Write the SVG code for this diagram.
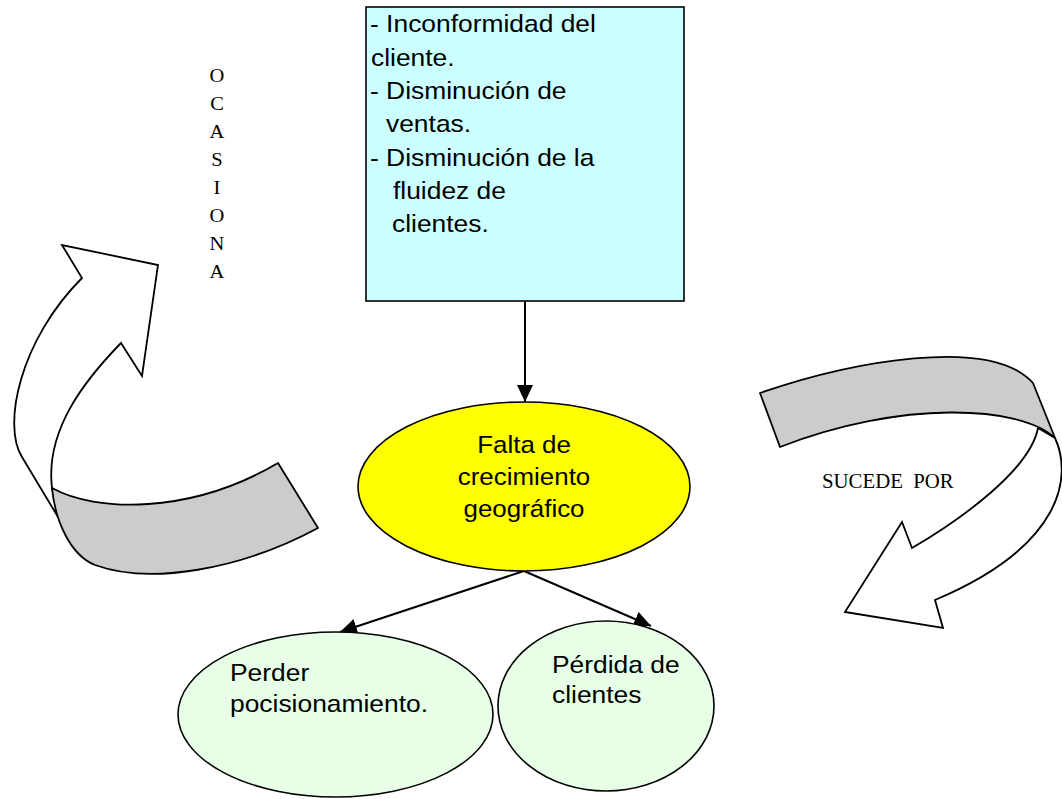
<svg xmlns="http://www.w3.org/2000/svg" width="1062" height="799" viewBox="0 0 1062 799">
  <style>
    .sans { font-family: "Liberation Sans", Arial, sans-serif; font-size: 24px; fill: #000; }
    .serif { font-family: "Liberation Serif", "Times New Roman", serif; fill: #000; }
    .edge { stroke: #000; stroke-width: 2; fill: none; }
    .shape { stroke: #000; stroke-width: 1.6; }
    .band { fill: #cccccc; stroke: #000; stroke-width: 1.8; stroke-linejoin: round; }
    .curl { fill: #ffffff; stroke: #000; stroke-width: 1.8; stroke-linejoin: miter; }
  </style>
  <defs>
    <marker id="head" markerUnits="userSpaceOnUse" markerWidth="18" markerHeight="16" refX="17" refY="8" orient="auto">
      <path d="M0,0 L17,8 L0,16 Z" fill="#000"/>
    </marker>
  </defs>

  <rect width="1062" height="799" fill="#ffffff"/>

  <!-- curved arrow, left side -->
  <g id="curl-left">
    <path class="curl" d="M58,517 L22,457 C2,425 20,340 82,278 L62,245 L158,265 L142,376 L121,343 C85,380 45,430 52,488 Z"/>
    <path class="band" d="M52,488 C95,512 190,515 278,463 L318,528 C240,570 150,585 95,565 C70,555 55,520 52,488 Z"/>
  </g>

  <!-- curved arrow, right side -->
  <g id="curl-right">
    <path class="curl" d="M1055,438 C1072,475 1065,545 935,600 L943,628 L845,612 L902,522 L912,548 C960,520 1030,470 1038,428 Z"/>
    <path class="band" d="M760,393 C850,362 990,335 1033,383 L1055,438 C1020,405 900,400 780,447 Z"/>
  </g>

  <!-- vertical label -->
  <g id="label-ocasiona" class="serif" font-size="19" text-anchor="middle">
    <text transform="translate(217,82) scale(1.08,1)">O</text>
    <text transform="translate(217,110) scale(1.08,1)">C</text>
    <text transform="translate(217,138) scale(1.08,1)">A</text>
    <text transform="translate(217,166) scale(1.08,1)">S</text>
    <text transform="translate(217,194) scale(1.08,1)">I</text>
    <text transform="translate(217,222) scale(1.08,1)">O</text>
    <text transform="translate(217,250) scale(1.08,1)">N</text>
    <text transform="translate(217,278) scale(1.08,1)">A</text>
  </g>

  <g id="label-sucede" class="serif" font-size="20">
    <text transform="translate(822,488) scale(1.04,1)" xml:space="preserve">SUCEDE  POR</text>
  </g>

  <!-- connectors -->
  <g id="connectors">
    <line class="edge" x1="525" y1="301" x2="525" y2="402" marker-end="url(#head)"/>
    <line class="edge" x1="524" y1="571" x2="340" y2="632" marker-end="url(#head)"/>
    <line class="edge" x1="524" y1="571" x2="651" y2="626" marker-end="url(#head)"/>
  </g>

  <!-- effects box -->
  <g id="node-effects">
    <rect class="shape" x="366" y="7" width="318" height="294" fill="#ccffff"/>
    <g class="sans">
      <text transform="translate(370,32) scale(1.1,1)">- Inconformidad del</text>
      <text transform="translate(371,65.5) scale(1.1,1)">cliente.</text>
      <text transform="translate(370,99) scale(1.1,1)">- Disminución de</text>
      <text transform="translate(386,132) scale(1.1,1)">ventas.</text>
      <text transform="translate(370,166) scale(1.1,1)">- Disminución de la</text>
      <text transform="translate(393,199) scale(1.1,1)">fluidez de</text>
      <text transform="translate(392,232) scale(1.1,1)">clientes.</text>
    </g>
  </g>

  <!-- central problem -->
  <g id="node-problem">
    <ellipse class="shape" cx="524" cy="486.5" rx="166" ry="84.5" fill="#ffff00"/>
    <g class="sans" text-anchor="middle">
      <text transform="translate(524,453) scale(1.08,1)">Falta de</text>
      <text transform="translate(524,485) scale(1.08,1)">crecimiento</text>
      <text transform="translate(524,517) scale(1.08,1)">geográfico</text>
    </g>
  </g>

  <!-- consequences -->
  <g id="node-positioning">
    <ellipse class="shape" cx="335.5" cy="714.5" rx="157.5" ry="82.5" fill="#e6ffe6"/>
    <g class="sans">
      <text transform="translate(230,681) scale(1.1,1)">Perder</text>
      <text transform="translate(230,712) scale(1.1,1)">pocisionamiento.</text>
    </g>
  </g>

  <g id="node-clients">
    <ellipse class="shape" cx="606" cy="706" rx="108" ry="85" fill="#e6ffe6"/>
    <g class="sans">
      <text transform="translate(552,673) scale(1.1,1)">Pérdida de</text>
      <text transform="translate(552,703) scale(1.1,1)">clientes</text>
    </g>
  </g>
</svg>
